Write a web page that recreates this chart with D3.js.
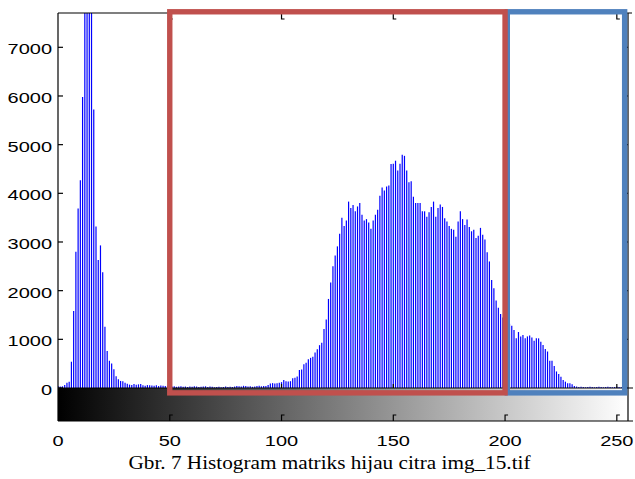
<!DOCTYPE html>
<html lang="en">
	<head>
		<meta charset="utf-8">
		<title>Histogram matriks hijau</title>
		<script type="text/javascript" src="https://cdn.jsdelivr.net/npm/d3@7"></script>
		<style type="text/css">
			body { margin: 0px; background: white; }
			.tick-label { font-family: "Liberation Sans", Arial, sans-serif; font-size: 14.8px; fill: black; }
			.caption { font-family: "Liberation Serif", "Times New Roman", serif; font-size: 18px; fill: black; }
		</style>
	</head>
	<body>
		<script type="text/javascript">
			// histogram counts, gray levels 0..255
			var counts = [
				40, 30, 35, 60, 110, 130, 540, 1580, 2800, 3690,
				4270, 5980, 9000, 9500, 9200, 8000, 5720, 3320, 2630, 2930,
				2380, 1260, 760, 560, 505, 385, 240, 180, 145, 140,
				110, 85, 70, 60, 80, 65, 75, 80, 55, 45,
				60, 55, 50, 45, 55, 40, 50, 45, 40, 50,
				35, 30, 35, 25, 30, 35, 25, 30, 20, 30,
				25, 35, 30, 20, 25, 30, 35, 20, 30, 25,
				15, 20, 25, 15, 20, 30, 20, 25, 20, 30,
				40, 35, 30, 45, 40, 30, 35, 25, 30, 40,
				45, 35, 40, 40, 60, 95, 100, 95, 98, 110,
				120, 165, 137, 135, 140, 200, 210, 235, 370, 380,
				490, 520, 590, 620, 640, 730, 795, 880, 930, 1210,
				1410, 1830, 2170, 2500, 2720, 2910, 3170, 3500, 3330, 3440,
				3830, 3700, 3760, 3630, 3730, 3800, 3560, 3440, 3470, 3400,
				3270, 3440, 3560, 3660, 3950, 4120, 4060, 4140, 4160, 4600,
				4610, 4670, 4470, 4610, 4790, 4770, 4470, 4230, 4250, 3930,
				3800, 3800, 3800, 3630, 3630, 3520, 3610, 3720, 3830, 3520,
				3700, 3770, 3720, 3490, 3420, 3330, 3270, 3250, 3110, 3420,
				3630, 3470, 3350, 3460, 3310, 3220, 3250, 3080, 3130, 3290,
				3150, 3050, 2790, 2600, 2220, 2050, 1800, 1650, 1520, 1450,
				1380, 1320, 1320, 1280, 1190, 1020, 1150, 1060, 1090, 1020,
				1060, 1080, 1040, 970, 1020, 1020, 950, 885, 800, 750,
				560, 560, 450, 340, 290, 230, 165, 130, 100, 96,
				75, 41, 30, 20, 25, 20, 15, 20, 25, 20,
				15, 20, 25, 20, 15, 20, 25, 20, 15, 20,
				25, 20, 15, 20, 25, 20
			];
			var yTicks = [0, 1000, 2000, 3000, 4000, 5000, 6000, 7000];
			var xTicks = [0, 50, 100, 150, 200, 250];
			var yMax = 7705;
			// highlighted ranges (gray level from/to, count bottom/top)
			var redBox = [50, 200, -100, 7730];
			var blueBox = [201, 253.5, -100, 7730];
			var caption = "Gbr. 7 Histogram matriks hijau citra img_15.tif";

			var w = 635;
			var h = 479;
			// plot box (window.top is read-only, so use other names)
			var pL = 58, pR = 628, pT = 13, pB = 388, cbB = 421;
			var sx = 1.35; // the picture is stretched sideways

			var svg = d3.select("body")
				.append("svg")
				.attr("width", w)
				.attr("height", h);

			var x = d3.scaleLinear().domain([0, 255]).range([pL, pR]);
			var y = d3.scaleLinear().domain([0, yMax]).range([pB, pT]);

			// gray colorbar
			var defs = svg.append("defs");
			var grad = defs.append("linearGradient")
				.attr("id", "gray")
				.attr("x1", "0%").attr("x2", "100%");
			grad.append("stop").attr("offset", "0%").attr("stop-color", "#000");
			grad.append("stop").attr("offset", "100%").attr("stop-color", "#fff");
			defs.append("clipPath").attr("id", "plot")
				.append("rect")
				.attr("x", pL).attr("y", pT)
				.attr("width", pR - pL).attr("height", pB - pT);

			svg.append("rect")
				.attr("x", x(0)).attr("y", pB)
				.attr("width", x(255) - x(0)).attr("height", cbB - pB)
				.attr("fill", "url(#gray)");

			// stems
			svg.append("g")
				.attr("clip-path", "url(#plot)")
				.selectAll("line")
				.data(counts)
				.enter()
				.append("line")
					.attr("x1", function(d, i) { return x(i); })
					.attr("x2", function(d, i) { return x(i); })
					.attr("y1", y(0))
					.attr("y2", function(d) { return y(d); })
					.style("stroke", "#0000ff")
					.style("stroke-width", 1.2);

			// axes frame
			var axis = svg.append("g")
				.style("stroke", "black")
				.style("fill", "none")
				.style("stroke-width", 1.2);
			axis.append("line").attr("x1", pL).attr("x2", pL).attr("y1", pT).attr("y2", cbB);
			axis.append("line").attr("x1", pR).attr("x2", pR).attr("y1", pT).attr("y2", cbB);
			axis.append("line").attr("x1", pL).attr("x2", pR + 4).attr("y1", pT).attr("y2", pT);
			axis.append("line").attr("x1", pL).attr("x2", pR + 5).attr("y1", pB).attr("y2", pB);
			axis.append("line").attr("x1", pL).attr("x2", pR + 5).attr("y1", cbB).attr("y2", cbB);

			// y ticks, inside on both sides
			yTicks.forEach(function(t) {
				axis.append("line").attr("x1", pL).attr("x2", pL + 5).attr("y1", y(t)).attr("y2", y(t));
				axis.append("line").attr("x1", pR - 6).attr("x2", pR).attr("y1", y(t)).attr("y2", y(t));
			});
			// x ticks: top down, baseline up, colorbar bottom up
			xTicks.slice(1).forEach(function(t) {
				var px = x(t);
				axis.append("path").attr("d", "M" + px + "," + pT + "V" + (pT + 6) + "h3");
				axis.append("path").attr("d", "M" + px + "," + pB + "v-4");
				axis.append("path").attr("d", "M" + px + "," + cbB + "v-6h3");
			});

			// tick labels
			function label(txt, px, py, anchor) {
				svg.append("text")
					.attr("class", "tick-label")
					.attr("transform", "translate(" + px + "," + py + ") scale(" + sx + ",1)")
					.attr("text-anchor", anchor)
					.text(txt);
			}
			yTicks.forEach(function(t) { label(t, 52, y(t) + 7, "end"); });
			xTicks.forEach(function(t) { label(t, x(t), 446, "middle"); });

			// highlight boxes
			function box(b, col) {
				svg.append("rect")
					.attr("x", x(b[0])).attr("y", y(b[3]))
					.attr("width", x(b[1]) - x(b[0]))
					.attr("height", y(b[2]) - y(b[3]))
					.style("fill", "none")
					.style("stroke", col)
					.style("stroke-width", 5.4);
			}
			box(blueBox, "#4f81bd");
			box(redBox, "#c0504d");

			svg.append("text")
				.attr("class", "caption")
				.attr("transform", "translate(329.5,469) scale(1.18,1)")
				.attr("text-anchor", "middle")
				.text(caption);
		</script>
	</body>
</html>
